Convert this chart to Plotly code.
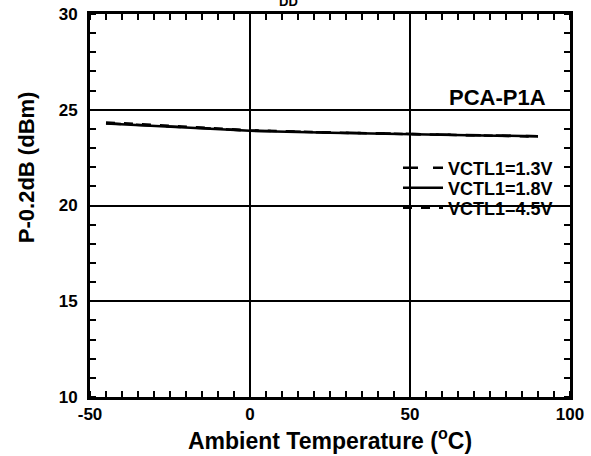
import plotly.graph_objects as go

temps = [-45, -20, 0, 25, 50, 75, 90]
p_13 = [24.30, 24.10, 23.91, 23.81, 23.74, 23.66, 23.62]
p_18 = [24.28, 24.08, 23.90, 23.80, 23.73, 23.65, 23.61]
p_45 = [24.34, 24.13, 23.93, 23.81, 23.73, 23.65, 23.60]
names = ["VCTL1=1.3V", "VCTL1=1.8V", "VCTL1=4.5V"]
dashes = ["longdash", "solid", "dash"]
legend_ids = ["legend", "legend2", "legend3"]

x_ticks = [-50, 0, 50, 100]
x_tick_labels = ["-50", "0", "50", "100"]
y_ticks = [10, 15, 20, 25, 30]
y_tick_labels = ["10", "15", "20", "25", "30"]

FONT = "Liberation Sans, Arial, sans-serif"

fig = go.Figure()
for ys, nm, ds, lg in zip([p_13, p_18, p_45], names, dashes, legend_ids):
    fig.add_trace(go.Scatter(x=temps, y=ys, mode="lines", name="<b>" + nm + "</b>",
                             legend=lg, showlegend=True,
                             line=dict(color="black", width=2.5, dash=ds)))

axis_common = dict(showline=True, linecolor="black", linewidth=3, mirror="allticks",
                   showgrid=True, gridcolor="black", gridwidth=2, zeroline=False,
                   ticks="", automargin=False,
                   tickfont=dict(family=FONT, size=17, color="black", weight="bold"))
fig.update_xaxes(range=[-50, 100], tickvals=x_ticks, ticktext=x_tick_labels,
                 minor=dict(dtick=5, ticks="inside", ticklen=6, tickwidth=1.5,
                            tickcolor="black", showgrid=False),
                 title=dict(text="<b>Ambient Temperature (<sup>o</sup>C)</b>",
                            font=dict(family=FONT, size=23, color="black"), standoff=3),
                 **axis_common)
fig.update_yaxes(range=[10, 30], tickvals=y_ticks, ticktext=y_tick_labels,
                 minor=dict(dtick=1, ticks="inside", ticklen=6, tickwidth=1.5,
                            tickcolor="black", showgrid=False),
                 ticklabelstandoff=6,
                 **axis_common)

# y-axis title (sits above the plot centre in the reference)
fig.add_annotation(text="<b>P-0.2dB (dBm)</b>", xref="paper", yref="paper",
                   x=-0.133, y=(397 - 167) / 383, xanchor="center", yanchor="middle",
                   textangle=-90, showarrow=False,
                   font=dict(family=FONT, size=22, color="black"))
fig.add_annotation(text="<b>PCA-P1A</b>", xref="paper", yref="paper", x=0.954, y=0.783,
                   xanchor="right", yanchor="middle", showarrow=False,
                   font=dict(family=FONT, size=22, color="black"))
fig.add_annotation(text="<b>DD</b>", xref="paper", yref="paper", x=0.4125, y=1.0,
                   xanchor="center", yanchor="bottom", yshift=3, showarrow=False,
                   font=dict(family=FONT, size=13, color="black"))

leg_common = dict(xanchor="right", yanchor="middle", bgcolor="rgba(0,0,0,0)",
                  itemwidth=40, font=dict(family=FONT, size=18, color="black"))
leg_rows = [168, 188, 208]
layout_legends = {}
for lg, row in zip(legend_ids, leg_rows):
    layout_legends[lg] = dict(x=0.975, y=(397 - row) / 383, **leg_common)

fig.update_layout(
    width=591, height=456,
    margin=dict(l=90, r=21, t=14, b=59),
    plot_bgcolor="white", paper_bgcolor="white",
    font=dict(family=FONT, color="black"),
    showlegend=True,
    **layout_legends,
)
fig.write_html("out.html", post_script="document.body.style.margin='0';",
               config={"displayModeBar": False})
